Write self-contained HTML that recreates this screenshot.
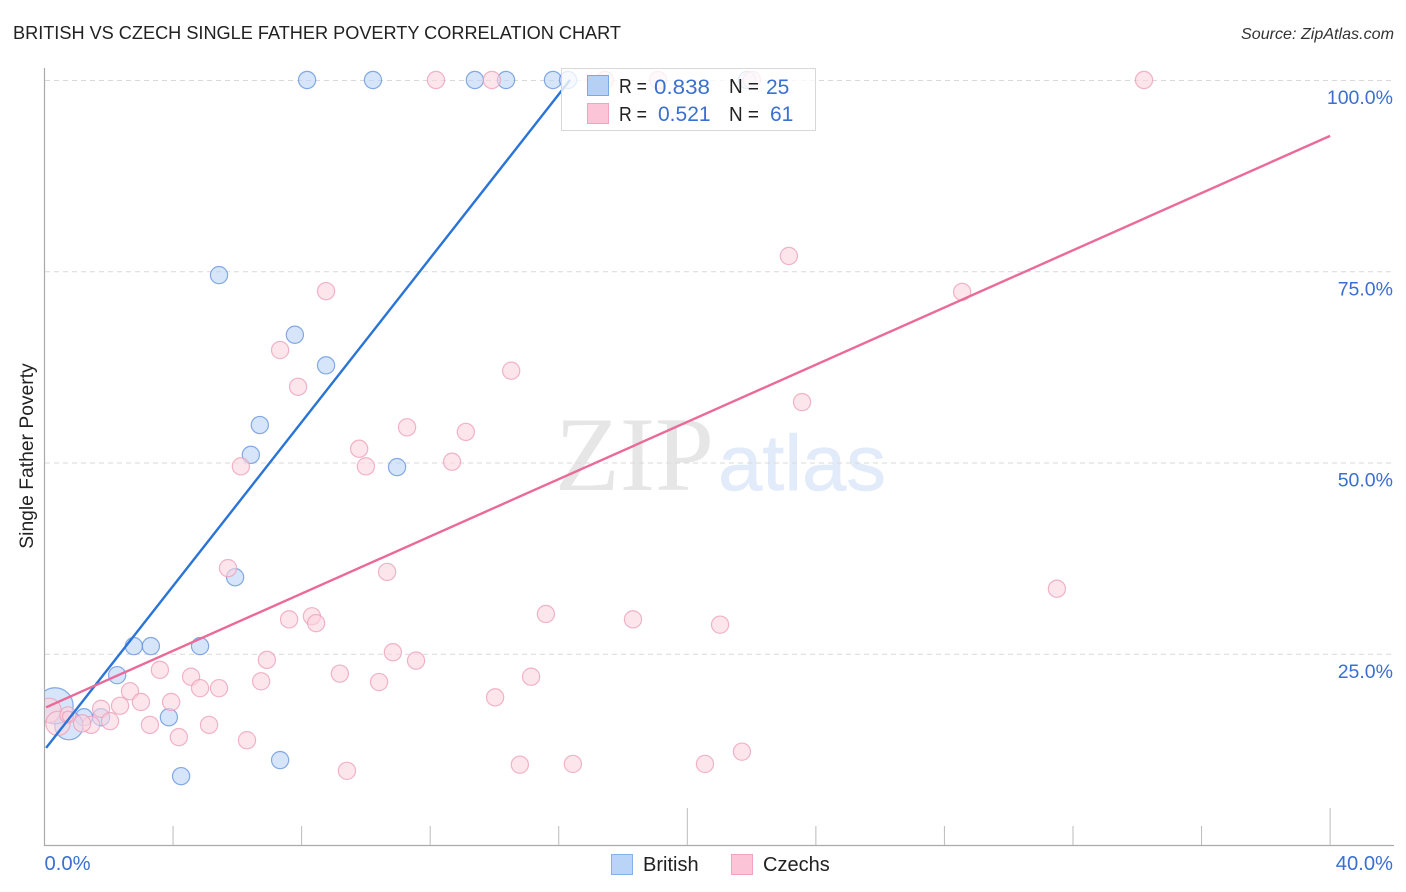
<!DOCTYPE html>
<html lang="en">
<head>
<meta charset="utf-8">
<title>British vs Czech Single Father Poverty Correlation Chart</title>
<style>
html,body{margin:0;padding:0;background:#fff;width:1406px;height:892px;overflow:hidden}
svg{display:block}
text{font-family:"Liberation Sans",sans-serif}
</style>
</head>
<body>
<svg id="chart" width="1406" height="892" viewBox="0 0 1406 892" xmlns="http://www.w3.org/2000/svg">
  <defs>
    <clipPath id="plot-clip"><rect x="45" y="60" width="1349" height="785"/></clipPath>
  </defs>
  <rect width="1406" height="892" fill="#fff"/>
  <text x="13" y="39" font-size="18.4" fill="#222" textLength="608" lengthAdjust="spacingAndGlyphs">BRITISH VS CZECH SINGLE FATHER POVERTY CORRELATION CHART</text>
  <text x="1394" y="39" font-size="15.6" font-style="italic" fill="#333" text-anchor="end" textLength="153" lengthAdjust="spacingAndGlyphs">Source: ZipAtlas.com</text>

  <g>
    <text x="555" y="490" font-size="106" fill="#e6e6e6" style="font-family:'Liberation Serif',serif" textLength="159" lengthAdjust="spacingAndGlyphs">ZIP</text>
    <text x="718" y="490" font-size="79" fill="#e2ebf9" stroke="#e2ebf9" stroke-width="0.6" style="font-family:'Liberation Sans',sans-serif" textLength="168" lengthAdjust="spacingAndGlyphs">atlas</text>
  </g>

  <g id="grid"></g>
  <g id="axes"></g>
  <g id="points-british" clip-path="url(#plot-clip)"></g>
  <g id="points-czechs" clip-path="url(#plot-clip)"></g>
  <g id="trends"></g>
  <g id="labels"></g>

  <text transform="translate(33,456) rotate(-90)" font-size="19.3" fill="#222" text-anchor="middle">Single Father Poverty</text>

  <g>
    <rect x="561.5" y="68.5" width="254" height="62" fill="#fff" fill-opacity="0.78" stroke="#d8d8d8"/>
    <rect x="587.5" y="75.5" width="21" height="20" fill="#b5d0f3" stroke="#7aa7e6"/>
    <rect x="587.5" y="103.5" width="21" height="20" fill="#fcc5d7" stroke="#f2a3bd"/>
    <g font-size="20" fill="#222">
      <text x="619" y="93" textLength="28" lengthAdjust="spacingAndGlyphs">R =</text>
      <text x="729" y="93" textLength="30" lengthAdjust="spacingAndGlyphs">N =</text>
      <text x="619" y="121" textLength="28" lengthAdjust="spacingAndGlyphs">R =</text>
      <text x="729" y="121" textLength="30" lengthAdjust="spacingAndGlyphs">N =</text>
    </g>
    <g font-size="21" fill="#3b6fd0">
      <text x="654" y="94" textLength="56" lengthAdjust="spacingAndGlyphs">0.838</text>
      <text x="766" y="94">25</text>
      <text x="658" y="121">0.521</text>
      <text x="770" y="121">61</text>
    </g>
  </g>

  <g>
    <g>
      <rect x="611.5" y="854.5" width="21" height="20" fill="#b9d4f6" stroke="#85b0ea"/>
      <text x="643" y="871" font-size="20" fill="#222">British</text>
    </g>
    <g>
      <rect x="731.5" y="854.5" width="21" height="20" fill="#fcc5d7" stroke="#f2a3bd"/>
      <text x="763" y="871" font-size="20" fill="#222">Czechs</text>
    </g>
  </g>
</svg>
<script>
const britishX = [8.17,10.22,13.39,14.36,15.82,16.29,21.86,5.43,7.79,8.76,6.70,6.42,10.97,5.93,2.78,3.31,4.84,2.26,3.87,4.25,7.33,1.76,1.23,0.76,0.33];
const britishY = [100,100,100,100,100,100,100,74.5,66.7,62.7,54.9,51.0,49.4,35.0,26.0,26.0,26.0,22.2,16.7,9.0,11.1,16.7,16.7,15.6,18.2];
const britishSize = [1,1,1,1,1,1,1,1,1,1,1,1,1,1,1,1,1,1,1,1,1,1,1,2.7,4.4];

const czechsX = [12.18,13.92,19.09,22.01,17.44,34.21,23.16,28.55,8.76,7.33,7.89,14.52,23.57,11.28,13.11,9.79,12.68,10.0,6.11,5.71,10.66,31.5,15.6,7.61,8.32,8.45,18.31,21.02,10.84,11.56,6.92,3.59,9.19,6.74,4.56,10.41,4.84,5.43,15.14,2.66,14.02,3.0,3.94,2.35,1.76,3.28,5.12,2.04,1.45,4.18,6.3,21.7,9.41,14.79,16.44,20.55,0.14,0.42,0.73,1.17,0.73];
const czechsY = [100,100,100,100,100,100,77,72.3,72.4,64.7,59.9,62,57.9,54.6,54,51.8,50.1,49.5,49.5,36.2,35.7,33.5,30.2,29.5,29.9,29,29.5,28.8,25.2,24.1,24.2,22.9,22.4,21.4,22,21.3,20.5,20.5,22,20.1,19.3,18.7,18.7,18.2,17.8,15.7,15.7,16.2,15.7,14.1,13.7,12.2,9.7,10.5,10.6,10.6,17.6,15.9,17,15.9,16.8];
const czechsSize = [1,1,1,1,1,1,1,1,1,1,1,1,1,1,1,1,1,1,1,1,1,1,1,1,1,1,1,1,1,1,1,1,1,1,1,1,1,1,1,1,1,1,1,1,1,1,1,1,1,1,1,1,1,1,1,1,2,2,0.9,1,0.4];

const britishTrendX = [0.05,16.35];
const britishTrendY = [12.7,100];
const czechsTrendX = [0.05,40];
const czechsTrendY = [18.0,92.7];

const yGridValues = [100,75,50,25];
const yTickLabels = ["100.0%","75.0%","50.0%","25.0%"];
const xTickValues = [4,8,12,16,20,24,28,32,36,40];
const xMajorTicks = [20,40];
const xEndLabels = ["0.0%","40.0%"];
const xEndValues = [0,40];

const SVGNS = "http://www.w3.org/2000/svg";
const xScale = v => 44.5 + v * 32.14;
const yScale = v => 845 - v * 7.65;
const radius = s => 8.6 * Math.sqrt(s);

function make(parent, tag, attrs) {
  const el = document.createElementNS(SVGNS, tag);
  for (const k in attrs) el.setAttribute(k, attrs[k]);
  parent.appendChild(el);
  return el;
}

const grid = document.getElementById("grid");
const axes = document.getElementById("axes");
const labels = document.getElementById("labels");
const trends = document.getElementById("trends");

yGridValues.forEach((v, i) => {
  const line = make(grid, "line", {x1:45, x2:1394, y1:yScale(v)+0.5, y2:yScale(v)+0.5, stroke:"#d9d9d9", "stroke-width":1, "stroke-dasharray":"5 4"});
  
  
  const t = make(labels, "text", {x:1393, y:yScale(v)+24, "font-size":19.5, fill:"#3b6fd0", "text-anchor":"end"});
  t.textContent = yTickLabels[i];
  
  
});

const yAxis = make(axes, "line", {x1:44.5, x2:44.5, y1:68, y2:846, stroke:"#aaa", "stroke-width":1.2});


const xAxis = make(axes, "line", {x1:44, x2:1394, y1:845.5, y2:845.5, stroke:"#aaa", "stroke-width":1.2});



xTickValues.forEach(v => {
  const top = xMajorTicks.includes(v) ? 808 : 826;
  const tick = make(axes, "line", {x1:xScale(v), x2:xScale(v), y1:top, y2:845, stroke:"#bbb", "stroke-width":1});
  
  
});

xEndLabels.forEach((s, i) => {
  const t = make(labels, "text", {x: i === 0 ? xScale(xEndValues[i]) : 1393, y:870, "font-size":20.2, fill:"#3b6fd0", "text-anchor": i === 0 ? "start" : "end"});
  t.textContent = s;
  
  
});

function drawPoints(groupId, xs, ys, sizes, fill, stroke, name) {
  const g = document.getElementById(groupId);
  xs.forEach((x, i) => {
    const c = make(g, "circle", {cx:xScale(x), cy:yScale(ys[i]), r:radius(sizes[i]), fill:fill, "fill-opacity":0.6, stroke:stroke, "stroke-opacity":0.75, "stroke-width":1.2});
    
    
  });
}
drawPoints("points-british", britishX, britishY, britishSize, "#bad3f5", "#5f90dc", "british-point");
drawPoints("points-czechs", czechsX, czechsY, czechsSize, "#fbd3e0", "#ec9cb7", "czechs-point");

const blueLine = make(trends, "line", {x1:xScale(britishTrendX[0]), y1:yScale(britishTrendY[0]), x2:xScale(britishTrendX[1]), y2:yScale(britishTrendY[1]), stroke:"#2a74d8", "stroke-width":2.4});


const pinkLine = make(trends, "line", {x1:xScale(czechsTrendX[0]), y1:yScale(czechsTrendY[0]), x2:xScale(czechsTrendX[1]), y2:yScale(czechsTrendY[1]), stroke:"#ea6a98", "stroke-width":2.4});


</script>
</body>
</html>
